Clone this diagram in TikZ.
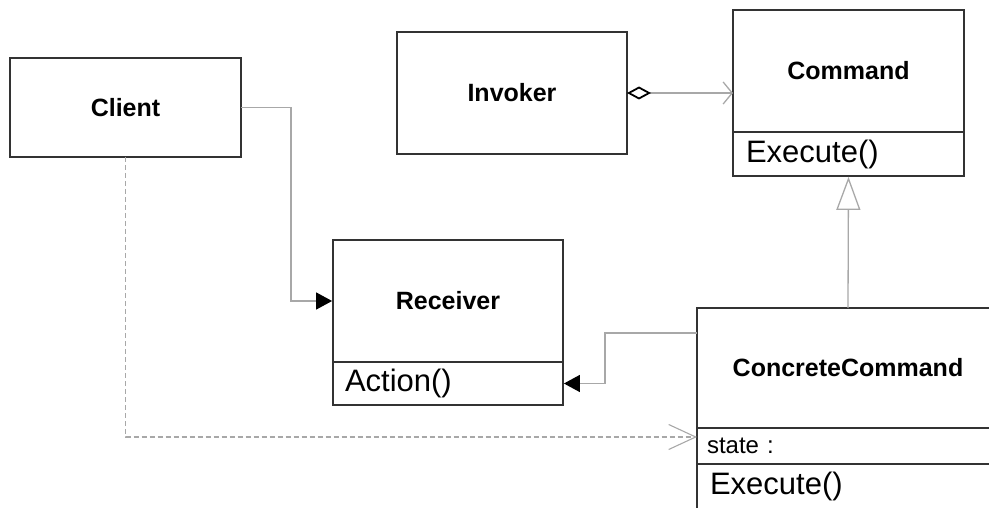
\documentclass[tikz,border=0pt]{standalone}
\usepackage{fontspec}
\setmainfont{Liberation Sans}
\usetikzlibrary{arrows.meta}
\definecolor{edge}{HTML}{333333}
\definecolor{connc}{HTML}{A8A8A8}
\begin{document}
\begin{tikzpicture}[x=1pt,y=-1pt,
  cls/.style={draw=edge, line width=1.8pt, rectangle, anchor=north west, inner sep=0pt, outer sep=0pt,
    font=\fontsize{25}{30}\selectfont\bfseries},
  ops/.style={draw=edge, line width=1.8pt, rectangle, anchor=north west, align=left, outer sep=0pt,
    inner ysep=0pt, font=\fontsize{31}{36}\selectfont},
  conn/.style={draw=connc, line width=1.3pt},
  filledtip/.style={-{Triangle[length=16pt,width=17pt,color=black]}}]
\useasboundingbox (0,0) rectangle (989,508);
\clip (0,0) rectangle (989,508);
\node[cls, minimum width=231pt, minimum height=99pt] (client) at (10,58) {Client};
\node[cls, minimum width=230pt, minimum height=122pt] (invoker) at (397,32) {Invoker};
\node[cls, minimum width=231pt, minimum height=122pt] (command) at (733,10) {Command};
\node[ops, text width=205pt, inner xsep=13pt, minimum height=44pt] (commandops) at (command.south west) {Execute()};
\node[cls, minimum width=230pt, minimum height=122pt] (receiver) at (333,240) {Receiver};
\node[ops, text width=206pt, inner xsep=12pt, minimum height=43pt] (receiverops) at (receiver.south west) {Action()};
\node[cls, minimum width=302pt, minimum height=120pt] (cc) at (697,308) {ConcreteCommand};
\node[ops, text width=282pt, inner xsep=10pt, minimum height=36pt, font=\fontsize{24}{28}\selectfont] (ccstate) at (cc.south west) {state :};
\node[ops, text width=276pt, inner xsep=13pt, minimum height=45pt] (ccops) at (ccstate.south west) {Execute()};
\draw[conn, filledtip, shorten >=0.9pt] (client.east) -- ++(50,0) |- (receiver.west);
\draw[conn, filledtip, shorten >=0.9pt] ([yshift=-25pt]cc.north west) -- ++(-92,0) |- (receiverops.east);
\draw[conn, {Diamond[open,length=24pt,width=13pt,color=black,line width=1.8pt]}-{Straight Barb[length=9pt,width=22pt]}]
  (invoker.east) -- (invoker.east -| command.west);
\draw[conn, -{Triangle[open,length=33pt,width=24pt]}, shorten >=0.9pt] (cc.north) -- (commandops.south);
\draw[conn, line width=1.1pt, dash pattern=on 5pt off 3pt, -{Straight Barb[length=27pt,width=25pt]}]
  (client.south) |- ([yshift=9pt]ccstate.west);
\end{tikzpicture}
\end{document}
